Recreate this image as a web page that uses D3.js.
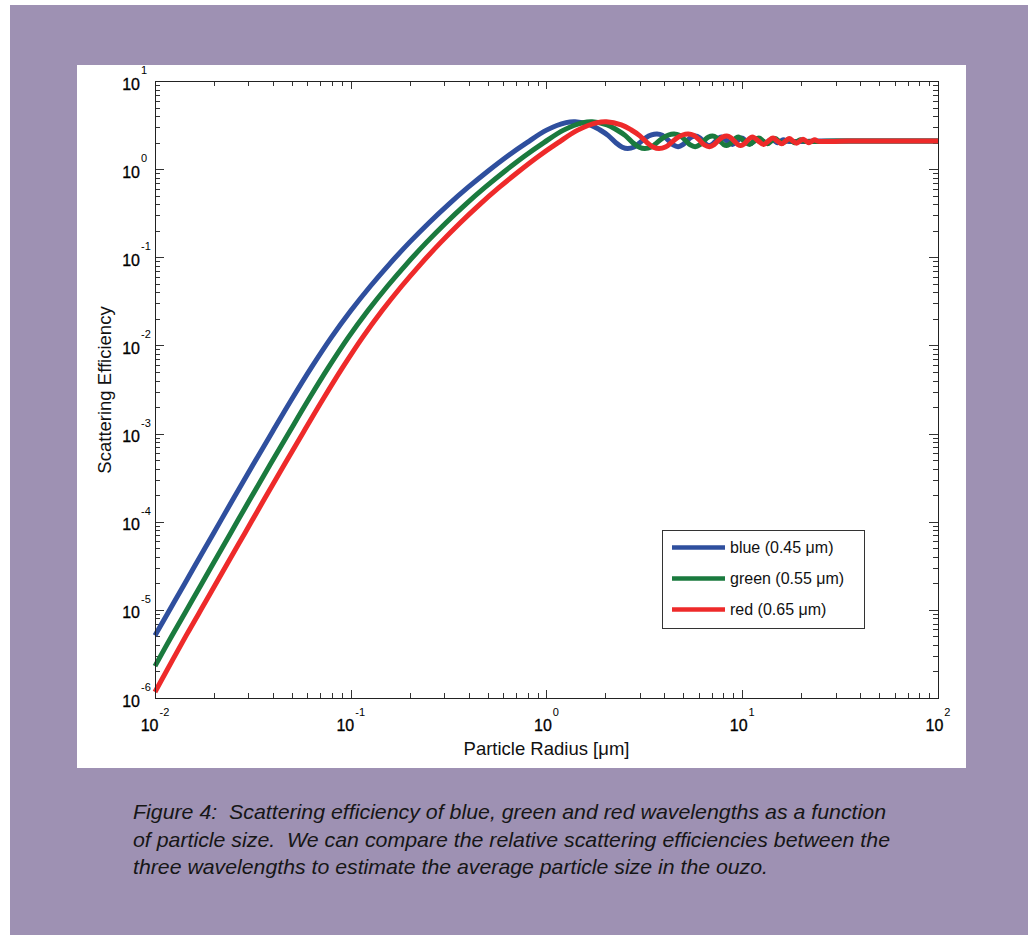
<!DOCTYPE html>
<html>
<head>
<meta charset="utf-8">
<script src="https://cdn.jsdelivr.net/npm/d3@7/dist/d3.min.js"></script>
<style>
  body { margin: 0; background: #fff; }
  svg text { font-family: "Liberation Sans", Arial, Helvetica, sans-serif; fill: #111; }
</style>
</head>
<body>
<svg id="chart" width="1031" height="935"></svg>
<script>
// particle radius (um) and scattering efficiency
const blueRadius = [0.01, 0.01259, 0.01585, 0.01995, 0.02512, 0.03162, 0.03981, 0.05012, 0.0631, 0.07943, 0.1, 0.1259, 0.1585, 0.1995, 0.2512, 0.3162, 0.3981, 0.5012, 0.631, 0.7943, 1.0, 1.259, 1.40,
  1.67, 1.87, 2.07, 2.27, 2.44, 2.60, 2.80, 3.00, 3.20, 3.44, 3.67, 3.90, 4.17, 4.44, 4.71, 4.97, 5.24, 5.51, 5.77, 6.04,
  6.31, 6.57, 6.81, 7.07, 7.34, 7.61, 7.88, 8.38, 8.91, 9.41, 9.94, 10.48, 11.01, 11.51, 12.05, 12.58, 13.08, 13.62, 14.15, 14.68,
  15.18, 15.72, 16.25, 16.79, 25, 100];
const blueQ = [5.13e-6, 1.25e-5, 3.06e-5, 7.46e-5, 1.82e-4, 4.40e-4, 1.05e-3, 2.48e-3, 5.66e-3, 0.01225, 0.0247, 0.0469, 0.0849, 0.1476, 0.247, 0.399, 0.624, 0.948, 1.403, 2.00, 2.77, 3.37, 3.45,
  3.18, 2.8, 2.40, 1.98, 1.77, 1.71, 1.78, 2.0, 2.25, 2.44, 2.50, 2.42, 2.15, 1.88, 1.80, 1.90, 2.12, 2.31, 2.37, 2.28,
  2.08, 1.90, 1.85, 1.93, 2.10, 2.26, 2.31, 2.08, 1.90, 2.08, 2.25, 2.08, 1.94, 2.08, 2.22, 2.08, 1.97, 2.08, 2.19, 2.08,
  1.99, 2.08, 2.16, 2.08, 2.08, 2.08];

const greenRadius = [0.01, 0.01222, 0.01539, 0.01937, 0.02437, 0.03068, 0.03863, 0.04864, 0.06122, 0.07708, 0.0970, 0.1222, 0.1539, 0.1937, 0.2437, 0.3068, 0.3863, 0.4864, 0.6122, 0.7708, 0.970, 1.222, 1.539, 1.711,
  2.04, 2.28, 2.53, 2.77, 2.98, 3.18, 3.43, 3.67, 3.92, 4.20, 4.49, 4.77, 5.10, 5.43, 5.75, 6.08, 6.40, 6.73, 7.06, 7.38,
  7.71, 8.04, 8.32, 8.65, 8.97, 9.30, 9.63, 10.24, 10.89, 11.50, 12.16, 12.81, 13.46, 14.07, 14.73, 15.38, 15.99, 16.64, 17.30, 17.95,
  18.56, 19.21, 19.87, 20.52, 30, 100];
const greenQ = [2.3e-6, 5.13e-6, 1.25e-5, 3.06e-5, 7.46e-5, 1.82e-4, 4.40e-4, 1.05e-3, 2.48e-3, 5.66e-3, 0.01225, 0.0247, 0.0469, 0.0849, 0.1476, 0.247, 0.399, 0.624, 0.948, 1.403, 2.00, 2.77, 3.37, 3.45,
  3.18, 2.8, 2.40, 1.98, 1.77, 1.71, 1.78, 2.0, 2.25, 2.44, 2.50, 2.42, 2.15, 1.88, 1.80, 1.90, 2.12, 2.31, 2.37, 2.28,
  2.08, 1.90, 1.85, 1.93, 2.10, 2.26, 2.31, 2.08, 1.90, 2.08, 2.25, 2.08, 1.94, 2.08, 2.22, 2.08, 1.97, 2.08, 2.19, 2.08,
  1.99, 2.08, 2.16, 2.08, 2.08, 2.08];

const redRadius = [0.01, 0.01444, 0.01818, 0.02289, 0.02882, 0.03627, 0.04566, 0.05748, 0.07237, 0.09112, 0.1147, 0.1444, 0.1818, 0.2289, 0.2882, 0.3627, 0.4566, 0.5748, 0.7237, 0.9112, 1.147, 1.444, 1.818, 2.022,
  2.41, 2.70, 2.99, 3.28, 3.52, 3.76, 4.05, 4.34, 4.63, 4.96, 5.30, 5.64, 6.03, 6.41, 6.80, 7.18, 7.57, 7.95, 8.34, 8.72,
  9.11, 9.50, 9.83, 10.22, 10.60, 10.99, 11.38, 12.10, 12.87, 13.59, 14.36, 15.13, 15.91, 16.63, 17.40, 18.17, 18.89, 19.67, 20.44, 21.21,
  21.93, 22.70, 23.47, 24.24, 35, 100];
const redQ = [1.17e-6, 5.13e-6, 1.25e-5, 3.06e-5, 7.46e-5, 1.82e-4, 4.40e-4, 1.05e-3, 2.48e-3, 5.66e-3, 0.01225, 0.0247, 0.0469, 0.0849, 0.1476, 0.247, 0.399, 0.624, 0.948, 1.403, 2.00, 2.77, 3.37, 3.45,
  3.18, 2.8, 2.40, 1.98, 1.77, 1.71, 1.78, 2.0, 2.25, 2.44, 2.50, 2.42, 2.15, 1.88, 1.80, 1.90, 2.12, 2.31, 2.37, 2.28,
  2.08, 1.90, 1.85, 1.93, 2.10, 2.26, 2.31, 2.08, 1.90, 2.08, 2.25, 2.08, 1.94, 2.08, 2.22, 2.08, 1.97, 2.08, 2.19, 2.08,
  1.99, 2.08, 2.16, 2.08, 2.08, 2.08];

const seriesNames = ['blue (0.45 \u03bcm)', 'green (0.55 \u03bcm)', 'red (0.65 \u03bcm)'];
const xExponents = [-2, -1, 0, 1, 2];
const yExponents = [-6, -5, -4, -3, -2, -1, 0, 1];
const captionLines = [
  'Figure 4:  Scattering efficiency of blue, green and red wavelengths as a function',
  'of particle size.  We can compare the relative scattering efficiencies between the',
  'three wavelengths to estimate the average particle size in the ouzo.'
];

const colors = ['#2f4f9e', '#1a7a3e', '#ee2a2a'];
const series = [
  d3.zip(blueRadius, blueQ),
  d3.zip(greenRadius, greenQ),
  d3.zip(redRadius, redQ)
];

const svg = d3.select('#chart');

// page background + white figure panel
svg.append('rect').attr('x', 10).attr('y', 5).attr('width', 1018).attr('height', 930).attr('fill', '#9e91b3');
svg.append('rect').attr('x', 77).attr('y', 65).attr('width', 889).attr('height', 703).attr('fill', '#fff');

const plotLeft = 155, plotRight = 938, plotTop = 81, plotBottom = 698;

const x = d3.scaleLog().domain([0.01, 100]).range([plotLeft, plotRight]);
const y = d3.scaleLog().domain([1e-6, 10]).range([plotBottom, plotTop]);

const g = svg.append('g');

// minor + major ticks, inward, on all four sides
const isMajor = (v, exps) => exps.some(e => Math.abs(Math.log10(v) - e) < 1e-9);
const xMinor = x.ticks().filter(v => !isMajor(v, xExponents));
const yMinor = y.ticks().filter(v => !isMajor(v, yExponents));
const xMajor = xExponents.map(e => Math.pow(10, e));
const yMajor = yExponents.map(e => Math.pow(10, e));

const ticks = g.append('g').attr('stroke', '#333').attr('stroke-width', 1);
function xTicks(vals, len) {
  vals.forEach(v => {
    const px = Math.round(x(v)) + 0.5;
    ticks.append('line').attr('x1', px).attr('x2', px).attr('y1', plotBottom).attr('y2', plotBottom - len);
    ticks.append('line').attr('x1', px).attr('x2', px).attr('y1', plotTop).attr('y2', plotTop + len);
  });
}
function yTicks(vals, len) {
  vals.forEach(v => {
    const py = Math.round(y(v)) + 0.5;
    ticks.append('line').attr('y1', py).attr('y2', py).attr('x1', plotLeft).attr('x2', plotLeft + len);
    ticks.append('line').attr('y1', py).attr('y2', py).attr('x1', plotRight).attr('x2', plotRight - len);
  });
}
xTicks(xMinor, 5); xTicks(xMajor, 8);
yTicks(yMinor, 5); yTicks(yMajor, 9);

// curves
const line = d3.line()
  .x(d => x(d[0]))
  .y(d => y(d[1]))
  .curve(d3.curveCatmullRom.alpha(0.5));

g.selectAll('.curve')
  .data(series)
  .enter().append('path')
  .attr('class', 'curve')
  .attr('d', line)
  .attr('fill', 'none')
  .attr('stroke', (d, i) => colors[i])
  .attr('stroke-width', 5)
  .attr('stroke-linejoin', 'round');

// axes box
g.append('rect')
  .attr('x', plotLeft + 0.5).attr('y', plotTop + 0.5)
  .attr('width', plotRight - plotLeft).attr('height', plotBottom - plotTop)
  .attr('fill', 'none').attr('stroke', '#222').attr('stroke-width', 1);

// x tick labels: 10 with exponent, centred on the tick
xExponents.forEach(e => {
  const t = svg.append('text')
    .attr('x', x(Math.pow(10, e)))
    .attr('y', 731)
    .attr('text-anchor', 'middle')
    .style('fill', '#000').style('stroke', '#000').style('stroke-width', 0.3);
  t.append('tspan').attr('font-size', 16).text('10');
  t.append('tspan').attr('font-size', 11).attr('dy', -15).attr('dx', 1).style('stroke-width', 0).text(e);
});

// y tick labels
yExponents.forEach(e => {
  const py = y(Math.pow(10, e));
  svg.append('text').attr('x', 140).attr('y', py + 8.5)
    .attr('text-anchor', 'end').attr('font-size', 16)
    .style('fill', '#000').style('stroke', '#000').style('stroke-width', 0.3)
    .text('10');
  svg.append('text').attr('x', 141).attr('y', py - 7)
    .attr('font-size', 11).style('fill', '#000').text(e);
});

// axis titles
svg.append('text')
  .attr('x', (plotLeft + plotRight) / 2).attr('y', 755)
  .attr('text-anchor', 'middle').attr('font-size', 18.5)
  .text('Particle Radius [\u03bcm]');

svg.append('text')
  .attr('transform', 'translate(111,390) rotate(-90)')
  .attr('text-anchor', 'middle').attr('font-size', 18.5)
  .text('Scattering Efficiency');

// legend
const legend = svg.append('g');
legend.append('rect')
  .attr('x', 662.5).attr('y', 530.5).attr('width', 202).attr('height', 98)
  .attr('fill', '#fff').attr('stroke', '#333').attr('stroke-width', 1);
seriesNames.forEach((name, i) => {
  const ly = 547.5 + i * 31;
  legend.append('line')
    .attr('x1', 672).attr('x2', 725).attr('y1', ly).attr('y2', ly)
    .attr('stroke', colors[i]).attr('stroke-width', 4.6);
  legend.append('text')
    .attr('x', 730).attr('y', ly + 5.5).attr('font-size', 16).text(name);
});

// caption
const widths = [753, 757, 635];
captionLines.forEach((s, i) => {
  svg.append('text')
    .attr('x', 133).attr('y', 819 + i * 27.5)
    .attr('font-size', 21)
    .attr('font-style', 'italic')
    .attr('textLength', widths[i])
    .attr('lengthAdjust', 'spacingAndGlyphs')
    .style('white-space', 'pre')
    .style('fill', '#161616')
    .text(s);
});
</script>
</body>
</html>
